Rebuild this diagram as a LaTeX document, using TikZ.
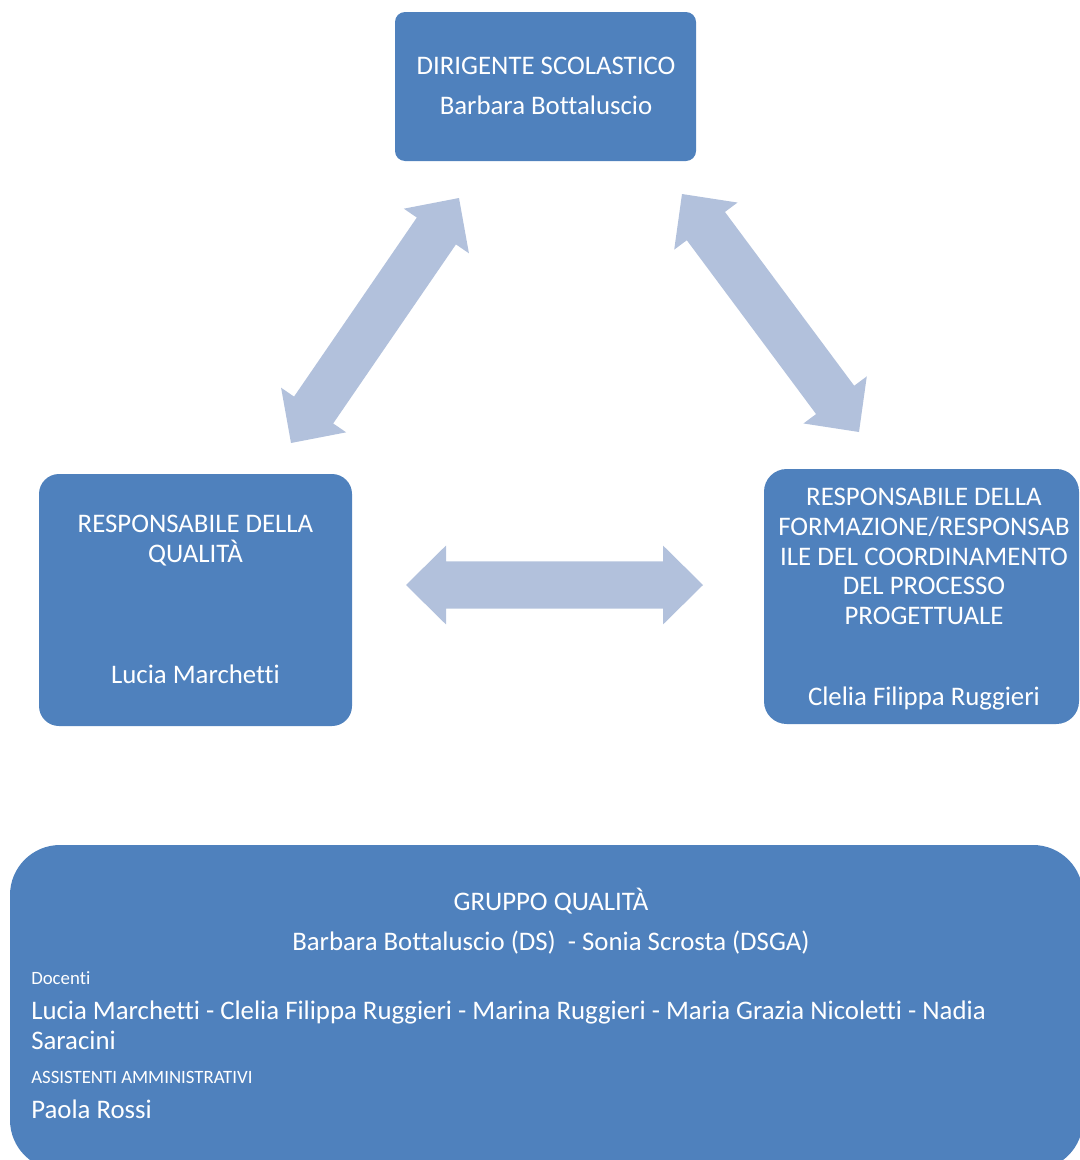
\documentclass[tikz,border=0pt]{standalone}
\usepackage{fontspec}
\setmainfont[Ligatures={NoCommon,NoContextual}]{Carlito}
\usetikzlibrary{calc}
\definecolor{boxblue}{HTML}{4F81BD}
\definecolor{arrowblue}{HTML}{B2C1DC}
\newcommand\dblarrow[3]{%
  \coordinate (#3ha) at ($(#1)!30pt!(#2)$);
  \coordinate (#3hb) at ($(#2)!30pt!(#1)$);
  \fill[arrowfill] (#1) -- ($(#3ha)!29.6pt!90:(#2)$) -- ($(#3ha)!17.8pt!90:(#2)$)
    -- ($(#3hb)!17.8pt!-90:(#1)$) -- ($(#3hb)!29.6pt!-90:(#1)$) -- (#2)
    -- ($(#3hb)!29.6pt!90:(#1)$) -- ($(#3hb)!17.8pt!90:(#1)$)
    -- ($(#3ha)!17.8pt!-90:(#2)$) -- ($(#3ha)!29.6pt!-90:(#2)$) -- cycle;}
\begin{document}
\begin{tikzpicture}[x=0.75pt,y=-0.75pt,
  box/.style={fill=boxblue, draw=none, inner sep=0pt, outer sep=0pt, rectangle},
  arrowfill/.style={fill=arrowblue},
  big/.style={text=white, inner sep=0pt, anchor=base, font=\fontsize{20.1}{22}\selectfont},
  small/.style={text=white, inner sep=0pt, anchor=base west, font=\fontsize{14.1}{16}\selectfont}]
\useasboundingbox (0,0) rectangle (1080,1160);
\clip (0,0) rectangle (1080,1160);
% boxes
\node[box, rounded corners=7.5pt, minimum width=225.75pt, minimum height=111.75pt] (ds) at (545.5,86.5) {};
\node[box, rounded corners=15pt, minimum width=234.75pt, minimum height=189pt] (rq) at (195.5,600) {};
\node[box, rounded corners=17pt, minimum width=236.25pt, minimum height=191.25pt] (rf) at (921.5,596.5) {};
\node[box, rounded corners=37.5pt, minimum width=804.75pt, minimum height=243.75pt] (gq) at (546.5,1007.5) {};
% top box text
\node[big] (ds1) at (546,74.5) {DIRIGENTE SCOLASTICO};
\node[big] (ds2) at (546,114.5) {Barbara Bottaluscio};
% left box text
\node[big] (rq1) at (195.5,532) {RESPONSABILE DELLA};
\node[big] (rq2) at (195.5,562) {QUALITÀ};
\node[big] (rq3) at (195.5,683.5) {Lucia Marchetti};
% right box text
\node[big] (rf1) at (924,505.5) {RESPONSABILE DELLA};
\node[big] (rf2) at (924,535.5) {FORMAZIONE/RESPONSAB};
\node[big] (rf3) at (924,565) {ILE DEL COORDINAMENTO};
\node[big] (rf4) at (924,594.5) {DEL PROCESSO};
\node[big] (rf5) at (924,624) {PROGETTUALE};
\node[big] (rf6) at (924,705.5) {Clelia Filippa Ruggieri};
% bottom box text
\node[big] (gq1) at (551,910.5) {GRUPPO QUALITÀ};
\node[big] (gq2) at (551,950) {Barbara Bottaluscio (DS)~ - Sonia Scrosta (DSGA)};
\node[small] (gq3) at (31,984.5) {Docenti};
\node[big, anchor=base west] (gq4) at (31,1019) {Lucia Marchetti - Clelia Filippa Ruggieri - Marina Ruggieri - Maria Grazia Nicoletti - Nadia};
\node[big, anchor=base west] (gq5) at (31,1049) {Saracini};
\node[small] (gq6) at (31,1083) {ASSISTENTI AMMINISTRATIVI};
\node[big, anchor=base west] (gq7) at (31,1118) {Paola Rossi};
% arrows
\coordinate (la) at (291,443);
\coordinate (lb) at (459,198);
\coordinate (ra) at (682,194);
\coordinate (rb) at (859,432);
\coordinate (ha) at (406,585);
\coordinate (hb) at (703,585);
\dblarrow{la}{lb}{l}
\dblarrow{ra}{rb}{r}
\dblarrow{ha}{hb}{h}
\end{tikzpicture}
\end{document}
